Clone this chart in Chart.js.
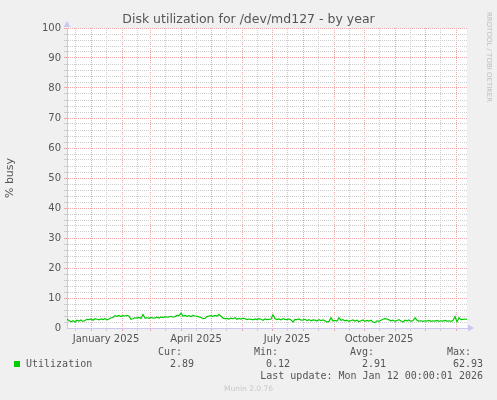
<!DOCTYPE html>
<html><head><meta charset="utf-8">
<script src="https://cdn.jsdelivr.net/npm/chart.js@4.4.1/dist/chart.umd.min.js"></script>
<style>
html,body{margin:0;padding:0;background:#F0F0F0;}
#wrap{position:relative;width:497px;height:400px;overflow:hidden;background:#F0F0F0;}
#c{position:absolute;left:0;top:0;}
.t{position:absolute;white-space:pre;color:#555;line-height:12px;}
.mono{font-family:'DejaVu Sans Mono',monospace;font-size:10px;}
</style></head><body>
<div id="wrap">
<canvas id="c" width="497" height="400"></canvas>
<div class="t" style="left:0;width:497px;top:12px;text-align:center;font-family:'DejaVu Sans';font-size:12.5px;line-height:14px;">Disk utilization for /dev/md127 - by year</div>
<div class="t" style="left:449px;top:48px;width:80px;text-align:center;font-family:'DejaVu Sans';font-size:7px;line-height:8px;color:#BEBEBE;transform:rotate(90deg);transform-origin:40px 4px;">RRDTOOL / TOBI OETIKER</div>
<div style="position:absolute;left:14px;top:361px;width:6px;height:6px;background:#00CC00;"></div>
<div class="t mono" style="left:26px;top:358px;">Utilization</div>
<div class="t mono" style="left:158px;top:346px;">Cur:</div>
<div class="t mono" style="left:254px;top:346px;">Min:</div>
<div class="t mono" style="left:350px;top:346px;">Avg:</div>
<div class="t mono" style="left:447px;top:346px;">Max:</div>
<div class="t mono" id="curV" style="right:303px;top:358px;"></div>
<div class="t mono" id="minV" style="right:207px;top:358px;"></div>
<div class="t mono" id="avgV" style="right:111px;top:358px;"></div>
<div class="t mono" id="maxV" style="right:14px;top:358px;"></div>
<div class="t mono" style="right:14px;top:370px;">Last update: Mon Jan 12 00:00:01 2026</div>
<div class="t" style="left:0;width:497px;top:384px;text-align:center;font-family:'DejaVu Sans';font-size:7.5px;line-height:9px;color:#C8C8C8;">Munin 2.0.76</div>
</div>
<script>
// Day 0 = 2024-12-08, last sample = 2026-01-12 (day 400), one sample every 2 days
const startDate = '2024-12-08';
const sampleStepDays = 2;
const utilization = [
  2.9, 2.5, 2.1, 2.4, 2.0, 2.6, 2.3, 2.7, 2.2, 2.5,
  2.9, 2.8, 3.0, 2.6, 3.1, 2.9, 2.7, 3.0, 2.8, 3.1,
  2.7, 3.0, 3.4, 3.5, 4.1, 3.9, 4.2, 3.8, 4.1, 4.0,
  4.2, 3.9, 2.9, 3.1, 3.4, 3.3, 3.5, 3.2, 4.5, 3.3,
  3.4, 3.2, 3.5, 3.3, 3.4, 3.6, 3.3, 3.7, 3.5, 3.8,
  3.6, 3.7, 3.9, 3.6, 3.8, 4.2, 4.1, 4.9, 4.0, 4.2,
  3.9, 4.1, 3.8, 4.2, 4.0, 3.9, 3.7, 3.5, 3.1, 3.2,
  3.8, 4.0, 4.1, 3.9, 4.2, 4.0, 4.5, 3.9, 3.3, 3.1,
  3.2, 3.0, 3.3, 3.1, 3.4, 2.9, 3.2, 3.0, 3.3, 3.1,
  2.8, 3.0, 2.9, 2.7, 3.0, 2.8, 3.1, 2.9, 2.6, 3.0,
  2.8, 2.9, 3.0, 4.4, 3.1, 2.8, 3.0, 2.7, 3.1, 2.9,
  2.8, 3.0, 2.7, 2.0, 2.9, 2.8, 3.0, 2.6, 2.7, 2.9,
  2.5, 2.8, 2.4, 2.7, 2.6, 2.3, 2.8, 2.5, 2.7, 2.4,
  2.0, 2.2, 3.4, 2.3, 2.5, 2.3, 3.4, 2.6, 2.8, 2.4,
  2.6, 2.2, 2.5, 2.7, 2.3, 2.6, 2.1, 2.4, 2.7, 2.2,
  2.5, 2.3, 2.6, 2.0, 1.8, 2.4, 2.2, 2.6, 2.9, 3.1,
  3.0, 2.7, 2.4, 2.6, 2.2, 2.5, 2.8, 2.3, 2.0, 2.6,
  2.4, 2.7, 2.2, 2.5, 3.4, 2.6, 2.3, 2.4, 2.2, 2.4,
  2.3, 2.5, 2.2, 2.4, 2.3, 2.5, 2.2, 2.4, 2.3, 2.5,
  2.3, 2.4, 2.2, 2.5, 3.8, 2.0, 3.4, 2.8, 2.9, 3.0,
  2.9
];
const monthStartDays = [24, 55, 83, 114, 144, 175, 205, 236, 267, 297, 328, 358, 389];
const midMonthDays = [8, 39, 70, 98, 129, 159, 190, 220, 251, 282, 312, 343, 373];
const quarterLabelDays = [39, 129, 220, 312];
const quarterLabels = ['January 2025', 'April 2025', 'July 2025', 'October 2025'];
const yTickLabels = [0, 10, 20, 30, 40, 50, 60, 70, 80, 90, 100];
const legendStats = { cur: '2.89', min: '0.12', avg: '2.91', max: '62.93' };

document.getElementById('curV').textContent = legendStats.cur;
document.getElementById('minV').textContent = legendStats.min;
document.getElementById('avgV').textContent = legendStats.avg;
document.getElementById('maxV').textContent = legendStats.max;

const RED = '#F2A6A6';
const GREY = '#CDCDCD';
const AXIS = '#C8C8F0';
const TXT = '#555555';

const yGridValues = [];
for (let v = 0; v <= 100; v += 2) yGridValues.push(v);
const xGridDays = monthStartDays.concat(midMonthDays).sort((a, b) => a - b);

const points = utilization.map((v, i) => ({ x: i * sampleStepDays, y: v }));

const bgPlugin = {
  id: 'bg',
  beforeDraw(chart) {
    const a = chart.chartArea, ctx = chart.ctx;
    ctx.save();
    ctx.fillStyle = '#FFFFFF';
    ctx.fillRect(a.left, a.top, a.right - a.left, a.bottom - a.top);
    ctx.restore();
  },
  afterDraw(chart) {
    const a = chart.chartArea, ctx = chart.ctx;
    ctx.save();
    ctx.fillStyle = AXIS;
    ctx.beginPath();
    ctx.moveTo(a.left - 3.5, a.top - 1);
    ctx.lineTo(a.left + 3.5, a.top - 1);
    ctx.lineTo(a.left, a.top - 7);
    ctx.closePath(); ctx.fill();
    ctx.beginPath();
    ctx.moveTo(a.right + 1, a.bottom - 3.5);
    ctx.lineTo(a.right + 1, a.bottom + 3.5);
    ctx.lineTo(a.right + 7, a.bottom);
    ctx.closePath(); ctx.fill();
    ctx.restore();
  }
};

new Chart(document.getElementById('c'), {
  type: 'line',
  data: {
    datasets: [{
      label: 'Utilization',
      data: points,
      borderColor: '#00CC00',
      borderWidth: 1.2,
      pointRadius: 0,
      tension: 0,
      fill: false,
      xAxisID: 'x',
      yAxisID: 'y'
    }]
  },
  options: {
    responsive: false,
    animation: false,
    devicePixelRatio: 1,
    layout: { padding: { left: 0, top: 28, right: 30, bottom: 52 } },
    plugins: { legend: { display: false }, tooltip: { enabled: false }, title: { display: false } },
    scales: {
      x: {
        type: 'linear', position: 'bottom', weight: 0, min: 0, max: 400,
        afterBuildTicks: s => { s.ticks = xGridDays.map(v => ({ value: v })); },
        ticks: { display: false },
        grid: {
          color: ctx => monthStartDays.includes(ctx.tick.value) ? RED : GREY,
          lineWidth: 1, drawTicks: true, tickLength: 3
        },
        border: { display: true, color: AXIS, width: 1, dash: [1, 1] },
        afterFit: s => { s.height = 3; }
      },
      xl: {
        type: 'linear', position: 'bottom', weight: 1, min: 0, max: 400,
        afterBuildTicks: s => { s.ticks = quarterLabelDays.map(v => ({ value: v })); },
        ticks: {
          autoSkip: false, maxRotation: 0, minRotation: 0, padding: 2,
          font: { family: 'DejaVu Sans', size: 10 }, color: TXT,
          callback: (v) => { const i = quarterLabelDays.indexOf(v); return i >= 0 ? quarterLabels[i] : ''; }
        },
        grid: { display: false, drawTicks: false, tickLength: 0 },
        border: { display: false },
        afterFit: s => { s.height = 17; }
      },
      y: {
        type: 'linear', position: 'left', min: 0, max: 100,
        afterBuildTicks: s => { s.ticks = yGridValues.map(v => ({ value: v })); },
        ticks: {
          autoSkip: false, padding: 3,
          font: { family: 'DejaVu Sans', size: 10 }, color: TXT,
          callback: (v) => yTickLabels.includes(v) ? String(v) : ''
        },
        grid: {
          color: ctx => ctx.tick.value === 0 ? 'rgba(0,0,0,0)' : (yTickLabels.includes(ctx.tick.value) ? RED : GREY),
          lineWidth: 1, drawTicks: true, tickLength: 3
        },
        border: { display: true, color: AXIS, width: 1, dash: [1, 1] },
        title: {
          display: true, text: '% busy', color: TXT,
          font: { family: 'DejaVu Sans', size: 11 }, padding: { top: 4, bottom: 0 }
        },
        afterFit: s => { s.width = 67; }
      }
    }
  },
  plugins: [bgPlugin]
});
</script>
</body></html>
